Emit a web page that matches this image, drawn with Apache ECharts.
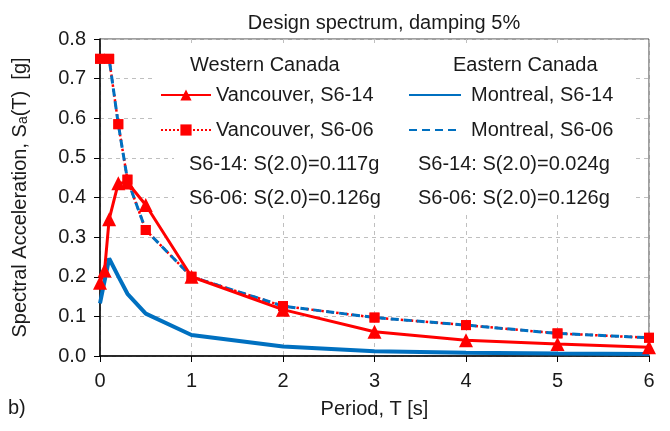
<!DOCTYPE html>
<html>
<head>
<meta charset="utf-8">
<script src="https://cdn.jsdelivr.net/npm/echarts@6/dist/echarts.min.js"></script>
<style>html,body{margin:0;padding:0;background:#fff}#c{width:670px;height:431px}</style>
</head>
<body>
<div id="c"></div>
<script>
// ---- data ----
var titleText = 'Design spectrum, damping 5%';
var xName = 'Period, T [s]';
var panelLabel = 'b)';
var groupHeaders = ['Western Canada', 'Eastern Canada'];
var westNotes = ['S6-14: S(2.0)=0.117g', 'S6-06: S(2.0)=0.126g'];
var eastNotes = ['S6-14: S(2.0)=0.024g', 'S6-06: S(2.0)=0.126g'];
var seriesNames = ['Vancouver, S6-14', 'Vancouver, S6-06', 'Montreal, S6-14', 'Montreal, S6-06'];

var vanS614 = [[0, 0.185], [0.05, 0.216], [0.1, 0.345], [0.2, 0.436], [0.3, 0.438], [0.5, 0.381], [1, 0.200], [2, 0.117], [3, 0.061], [4, 0.040], [5, 0.030], [6, 0.022]];
var vanS606 = [[0, 0.750], [0.1, 0.750], [0.2, 0.585], [0.3, 0.445], [0.5, 0.318], [1, 0.200], [2, 0.126], [3, 0.097], [4, 0.078], [5, 0.057], [6, 0.046]];
var monS614 = [[0, 0.133], [0.1, 0.246], [0.2, 0.201], [0.3, 0.157], [0.5, 0.107], [1, 0.053], [2, 0.024], [3, 0.012], [4, 0.008], [5, 0.006], [6, 0.005]];
var monS606 = [[0, 0.750], [0.1, 0.750], [0.2, 0.585], [0.3, 0.445], [0.5, 0.318], [1, 0.200], [2, 0.126], [3, 0.097], [4, 0.078], [5, 0.057], [6, 0.046]];

var RED = '#ff0000', BLUE = '#0070c0', TXT = '#1a1a1a';
var FONT = '"Liberation Sans", Arial, sans-serif';

var chart = echarts.init(document.getElementById('c'), null, {renderer: 'canvas'});
var option = {
  animation: false,
  backgroundColor: '#fff',
  textStyle: {fontFamily: FONT, color: TXT},
  title: {
    text: titleText, left: 379, top: 8, textAlign: 'center',
    textStyle: {fontFamily: FONT, fontSize: 20, fontWeight: 'normal', color: TXT}
  },
  grid: {left: 100, right: 21, top: 39, bottom: 75, show: true, borderColor: '#404040', borderWidth: 1},
  xAxis: {
    type: 'value', min: 0, max: 6, interval: 1,
    name: xName, nameLocation: 'middle', nameGap: 43,
    nameTextStyle: {fontFamily: FONT, fontSize: 20, color: TXT},
    axisLine: {show: true, lineStyle: {color: '#000', width: 1.5}},
    axisTick: {show: true, inside: false, length: 6, lineStyle: {color: '#000'}},
    axisLabel: {fontFamily: FONT, fontSize: 20, color: TXT, margin: 15},
    splitLine: {show: true, lineStyle: {color: '#bfbfbf', type: [4, 4], width: 1}}
  },
  yAxis: {
    type: 'value', min: 0, max: 0.8, interval: 0.1,
    name: 'Spectral Acceleration, S{sub|a}(T)  [g]', nameLocation: 'middle', nameGap: 70, nameRotate: 90,
    nameTextStyle: {fontFamily: FONT, fontSize: 20, color: TXT,
      rich: {sub: {fontFamily: FONT, fontSize: 14, color: TXT, padding: [6, 0, 0, 0]}}},
    axisLine: {show: true, lineStyle: {color: '#000', width: 1.5}},
    axisTick: {show: true, inside: false, length: 6, lineStyle: {color: '#000'}},
    axisLabel: {fontFamily: FONT, fontSize: 20, color: TXT, margin: 14, formatter: function (v) { return v.toFixed(1); }},
    splitLine: {show: true, lineStyle: {color: '#bfbfbf', type: [4, 4], width: 1}}
  },
  legend: [
    {
      data: [seriesNames[0], seriesNames[1]], orient: 'vertical', left: 160, top: 85, padding: 0,
      itemWidth: 50, itemHeight: 14, itemGap: 15, z: 4,
      textStyle: {fontFamily: FONT, fontSize: 20, color: TXT, lineHeight: 20}
    },
    {
      data: [
        {name: seriesNames[2], itemStyle: {opacity: 0}},
        {name: seriesNames[3], itemStyle: {opacity: 0}}
      ],
      orient: 'vertical', left: 408, top: 85, padding: 0,
      itemWidth: 52, itemHeight: 14, itemGap: 15, z: 4,
      textStyle: {fontFamily: FONT, fontSize: 20, color: TXT, lineHeight: 20, padding: [0, 0, 0, 5]}
    }
  ],
  graphic: [
    {type: 'rect', z: 1, silent: true, shape: {x: 152, y: 44, width: 482, height: 104}, style: {fill: '#fff'}},
    {type: 'rect', z: 1, silent: true, shape: {x: 174, y: 148, width: 458, height: 64}, style: {fill: '#fff'}},
    {type: 'text', z: 5, left: 190, top: 55, style: {text: groupHeaders[0], font: '20px ' + FONT, fill: TXT}},
    {type: 'text', z: 5, left: 453, top: 55, style: {text: groupHeaders[1], font: '20px ' + FONT, fill: TXT}},
    {type: 'text', z: 5, left: 189, top: 154, style: {text: westNotes[0], font: '20px ' + FONT, fill: TXT}},
    {type: 'text', z: 5, left: 189, top: 188, style: {text: westNotes[1], font: '20px ' + FONT, fill: TXT}},
    {type: 'text', z: 5, left: 418, top: 154, style: {text: eastNotes[0], font: '20px ' + FONT, fill: TXT}},
    {type: 'text', z: 5, left: 418, top: 188, style: {text: eastNotes[1], font: '20px ' + FONT, fill: TXT}},
    {type: 'text', z: 5, left: 8, top: 398, style: {text: panelLabel, font: '20px ' + FONT, fill: TXT}}
  ],
  series: [
    {
      name: seriesNames[0], type: 'line', data: vanS614, z: 3,
      symbol: 'triangle', symbolSize: 14, showSymbol: true,
      lineStyle: {color: RED, width: 3}, itemStyle: {color: RED}
    },
    {
      name: seriesNames[1], type: 'line', data: vanS606, z: 2,
      symbol: 'rect', symbolSize: 10,
      lineStyle: {color: RED, width: 2.5, type: 'dotted'}, itemStyle: {color: RED}
    },
    {
      name: seriesNames[2], type: 'line', data: monS614, z: 2,
      symbol: 'none', showSymbol: false,
      lineStyle: {color: BLUE, width: 4}, itemStyle: {color: BLUE}
    },
    {
      name: seriesNames[3], type: 'line', data: monS606, z: 2,
      symbol: 'none', showSymbol: false,
      lineStyle: {color: BLUE, width: 3, type: [8, 5]}, itemStyle: {color: BLUE}
    },
    {
      name: 'vanS606markers', type: 'scatter', data: vanS606, z: 4,
      symbol: 'rect', symbolSize: 10, itemStyle: {color: RED}
    }
  ]
};
chart.setOption(option);
</script>
</body>
</html>
